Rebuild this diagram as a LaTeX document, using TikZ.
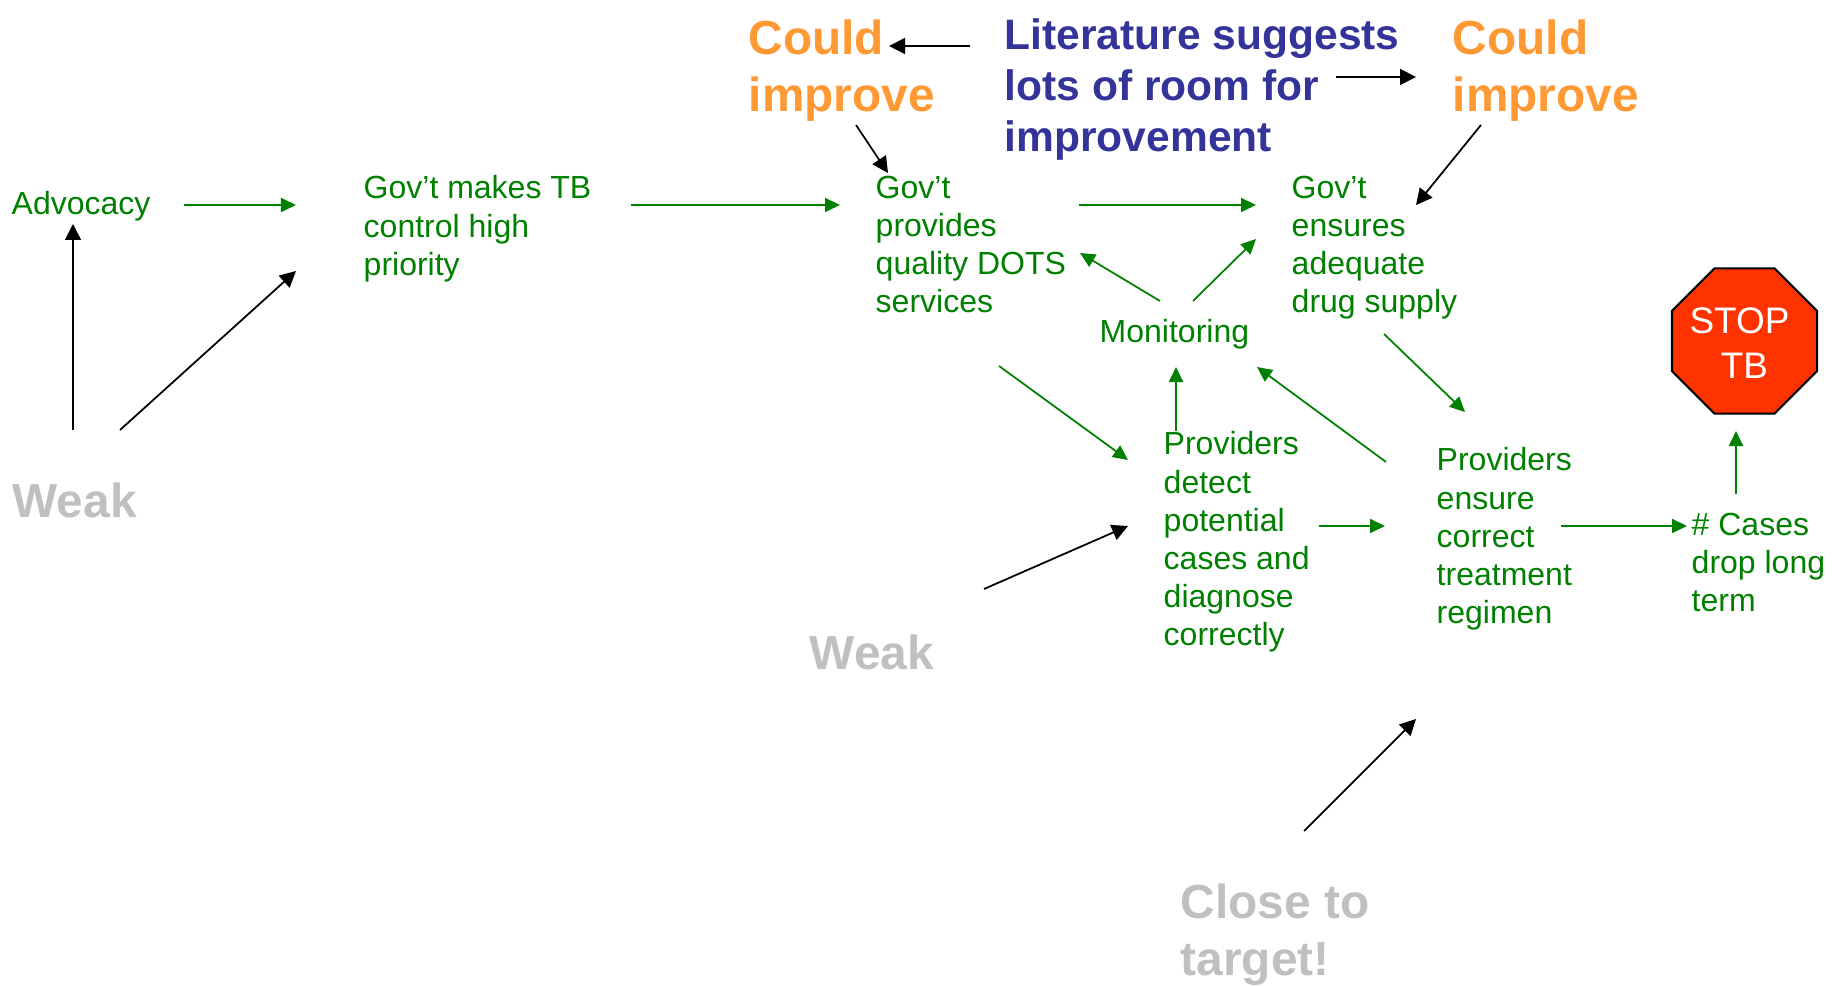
\documentclass[tikz,border=0pt]{standalone}
\usepackage{fontspec}
\setmainfont{Liberation Sans}
\usetikzlibrary{arrows.meta,shapes.geometric}
\definecolor{stepgreen}{HTML}{008000}
\definecolor{couldorange}{HTML}{FF9933}
\definecolor{litblue}{HTML}{333399}
\definecolor{weakgrey}{HTML}{C0C0C0}
\definecolor{stopred}{HTML}{FF3300}
\tikzset{
  stepnode/.style={anchor=north west, inner sep=0pt, align=left, text=stepgreen, font=\fontsize{9.1}{10.85}\selectfont},
  weaknode/.style={anchor=north west, inner sep=0pt, align=left, text=weakgrey, font=\fontsize{13.6}{16.2}\selectfont\bfseries},
  couldnode/.style={anchor=north west, inner sep=0pt, align=left, text=couldorange, font=\fontsize{13.6}{16.2}\selectfont\bfseries},
  greenarrow/.style={draw=stepgreen, line width=0.5pt, -{Triangle[length=1.5mm,width=1.4mm]}},
  blackarrow/.style={draw=black, line width=0.5pt, -{Triangle[length=1.6mm,width=1.6mm]}}
}

\begin{document}
\begin{tikzpicture}[x=0.01cm,y=-0.01cm]
\useasboundingbox (0,0) rectangle (1837,986);

% Causal chain
\node[stepnode] (advocacy) at (11,191) {Advocacy};
\node[stepnode] (priority) at (363,175) {Gov’t makes TB\\control high\\priority};
\node[stepnode] (quality) at (875,175) {Gov’t\\provides\\quality DOTS\\services};
\node[stepnode] (drugs) at (1291,175) {Gov’t\\ensures\\adequate\\drug supply};
\node[stepnode] (monitoring) at (1099,319) {Monitoring};
\node[stepnode] (detect) at (1163,431) {Providers\\detect\\potential\\cases and\\diagnose\\correctly};
\node[stepnode] (regimen) at (1436,447) {Providers\\ensure\\correct\\treatment\\regimen};
\node[stepnode] (cases) at (1691,512) {\# Cases\\drop long\\term};

% Assessments
\node[weaknode] (weakleft) at (12,482) {Weak};
\node[weaknode] (weakmid) at (809,634) {Weak};
\node[weaknode] (closetarget) at (1180,883) {Close to\\target!};
\node[couldnode] (couldleft) at (748,19) {Could\\improve};
\node[couldnode] (couldright) at (1452,19) {Could\\improve};
\node[anchor=north west, inner sep=0pt, align=left, text=litblue, font=\fontsize{12.1}{14.5}\selectfont\bfseries] (literature) at (1004,18) {Literature suggests\\lots of room for\\improvement};

% Stop sign
\node[regular polygon, regular polygon sides=8, minimum size=1.57cm, inner sep=0pt, outer sep=0pt, draw=black, line width=0.6pt, fill=stopred] (stop) at (1744.5,341) {};
\node[text=white, inner sep=0pt, align=center, font=\fontsize{10.5}{12.6}\selectfont] (stoplabel) at (1744.5,343) {STOP\hspace*{0.1cm}\\TB};

% Green links
\draw[greenarrow] ([shift={(173,14)}]advocacy.north west) -- ([shift={(-67,30)}]priority.north west);
\draw[greenarrow] ([shift={(268,30)}]priority.north west) -- ([shift={(-35,30)}]quality.north west);
\draw[greenarrow] ([shift={(204,30)}]quality.north west) -- ([shift={(-35,30)}]drugs.north west);
\draw[greenarrow] ([shift={(61,-18)}]monitoring.north west) -- ([shift={(205,78)}]quality.north west);
\draw[greenarrow] ([shift={(94,-18)}]monitoring.north west) -- ([shift={(-35,64)}]drugs.north west);
\draw[greenarrow] ([shift={(124,191)}]quality.north west) -- ([shift={(-35,29)}]detect.north west);
\draw[greenarrow] ([shift={(13,0)}]detect.north west) -- ([shift={(77,48)}]monitoring.north west);
\draw[greenarrow] ([shift={(156,95)}]detect.north west) -- ([shift={(-51,79)}]regimen.north west);
\draw[greenarrow] ([shift={(-50,15)}]regimen.north west) -- ([shift={(158,48)}]monitoring.north west);
\draw[greenarrow] ([shift={(93,159)}]drugs.north west) -- ([shift={(29,-35)}]regimen.north west);
\draw[greenarrow] ([shift={(125,79)}]regimen.north west) -- ([shift={(-4,14)}]cases.north west);
\draw[greenarrow] ([shift={(45,-18)}]cases.north west) -- ([shift={(-8.5,90)}]stop.center);

% Black links
\draw[blackarrow] ([shift={(61,-52)}]weakleft.north west) -- ([shift={(62,33)}]advocacy.north west);
\draw[blackarrow] ([shift={(108,-52)}]weakleft.north west) -- ([shift={(-67,96)}]priority.north west);
\draw[blackarrow] ([shift={(-34,28)}]literature.north west) -- ([shift={(141,27)}]couldleft.north west);
\draw[blackarrow] ([shift={(108,106)}]couldleft.north west) -- ([shift={(13,-2)}]quality.north west);
\draw[blackarrow] ([shift={(332,59)}]literature.north west) -- ([shift={(-36,58)}]couldright.north west);
\draw[blackarrow] ([shift={(29,106)}]couldright.north west) -- ([shift={(125,30)}]drugs.north west);
\draw[blackarrow] ([shift={(175,-45)}]weakmid.north west) -- ([shift={(-35,95)}]detect.north west);
\draw[blackarrow] ([shift={(124,-52)}]closetarget.north west) -- ([shift={(-20,272)}]regimen.north west);
\end{tikzpicture}
\end{document}
